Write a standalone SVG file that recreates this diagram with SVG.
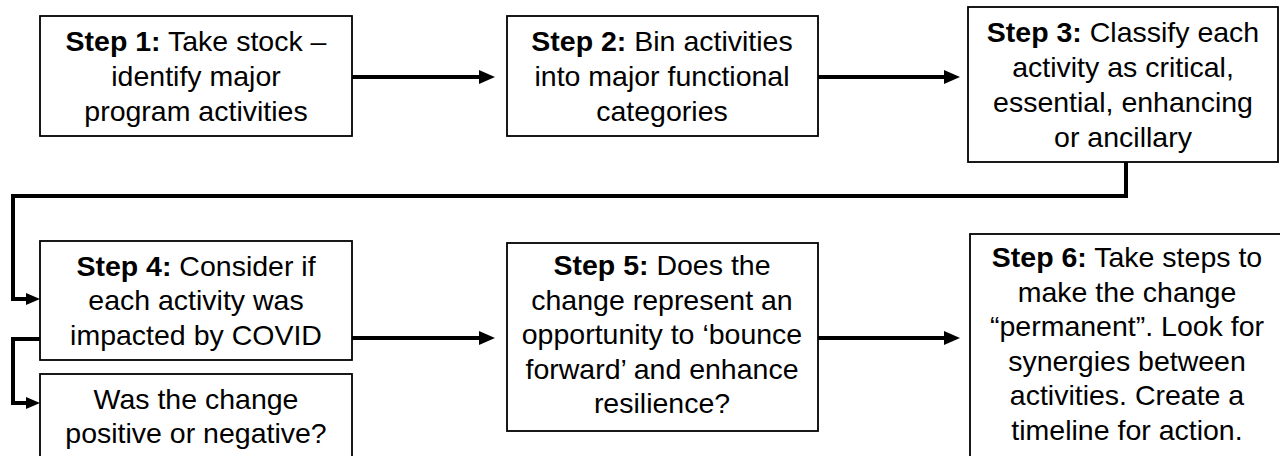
<svg xmlns="http://www.w3.org/2000/svg" width="1280" height="456" viewBox="0 0 1280 456">
<style>
.box{fill:#fff;stroke:#000;stroke-width:1.8}
.t{font-family:"Liberation Sans",Arial,sans-serif;font-size:28.5px;fill:#000;text-anchor:middle}
.b{font-weight:bold}
.c{fill:none;stroke:#000;stroke-width:4;stroke-linejoin:miter}
</style>
<defs>
<marker id="ah" markerUnits="userSpaceOnUse" markerWidth="16" markerHeight="14" refX="8" refY="7" orient="auto">
<path d="M0,0 L16,7 L0,14 z" fill="#000"/>
</marker>
<marker id="ahs" markerUnits="userSpaceOnUse" markerWidth="14" markerHeight="12" refX="7" refY="6" orient="auto">
<path d="M0,0 L14,6 L0,12 z" fill="#000"/>
</marker>
</defs>
<rect width="1280" height="456" fill="#fff"/>
<g id="connectors">
<path class="c" d="M352,77 H487" marker-end="url(#ah)"/>
<path class="c" d="M818,77 H952" marker-end="url(#ah)"/>
<path class="c" d="M1126,162 V196 H13 V299 H33" marker-end="url(#ahs)"/>
<path class="c" d="M40,339 H13 V403 H33" marker-end="url(#ahs)"/>
<path class="c" d="M352,338 H487" marker-end="url(#ah)"/>
<path class="c" d="M818,338 H952" marker-end="url(#ah)"/>
</g>
<g id="step1">
<rect class="box" x="40" y="16" width="312" height="120"/>
<text class="t" x="196" y="51"><tspan class="b">Step 1:</tspan> Take stock –</text>
<text class="t" x="196" y="86">identify major</text>
<text class="t" x="196" y="121">program activities</text>
</g>
<g id="step2">
<rect class="box" x="507" y="16" width="311" height="120"/>
<text class="t" x="662" y="51"><tspan class="b">Step 2:</tspan> Bin activities</text>
<text class="t" x="662" y="86">into major functional</text>
<text class="t" x="662" y="121">categories</text>
</g>
<g id="step3">
<rect class="box" x="968" y="7" width="310" height="155"/>
<text class="t" x="1123" y="42"><tspan class="b">Step 3:</tspan> Classify each</text>
<text class="t" x="1123" y="77">activity as critical,</text>
<text class="t" x="1123" y="112">essential, enhancing</text>
<text class="t" x="1123" y="147">or ancillary</text>
</g>
<g id="step4">
<rect class="box" x="40" y="241" width="312" height="119"/>
<text class="t" x="196" y="276"><tspan class="b">Step 4:</tspan> Consider if</text>
<text class="t" x="196" y="310">each activity was</text>
<text class="t" x="196" y="345">impacted by COVID</text>
</g>
<g id="step4b">
<rect class="box" x="40" y="374" width="312" height="100"/>
<text class="t" x="196" y="409">Was the change</text>
<text class="t" x="196" y="443">positive or negative?</text>
</g>
<g id="step5">
<rect class="box" x="507" y="243" width="311" height="188"/>
<text class="t" x="662" y="275"><tspan class="b">Step 5:</tspan> Does the</text>
<text class="t" x="662" y="310">change represent an</text>
<text class="t" x="662" y="344">opportunity to ‘bounce</text>
<text class="t" x="662" y="379">forward’ and enhance</text>
<text class="t" x="662" y="413">resilience?</text>
</g>
<g id="step6">
<rect class="box" x="970" y="234" width="316" height="240"/>
<text class="t" x="1127" y="267"><tspan class="b">Step 6:</tspan> Take steps to</text>
<text class="t" x="1127" y="302">make the change</text>
<text class="t" x="1127" y="336">“permanent”. Look for</text>
<text class="t" x="1127" y="371">synergies between</text>
<text class="t" x="1127" y="405">activities. Create a</text>
<text class="t" x="1127" y="440">timeline for action.</text>
</g>
</svg>
